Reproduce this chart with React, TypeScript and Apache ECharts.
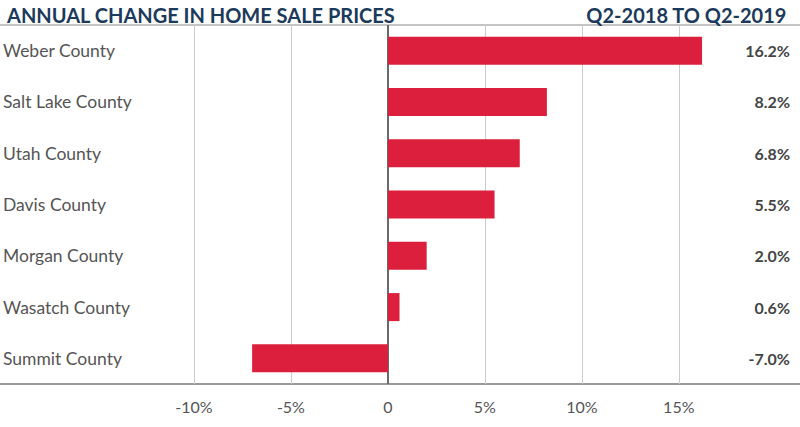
import React, { useEffect, useRef } from "react";
import * as echarts from "echarts";

const categories = [
  "Weber County",
  "Salt Lake County",
  "Utah County",
  "Davis County",
  "Morgan County",
  "Wasatch County",
  "Summit County",
];
const values = [16.2, 8.2, 6.8, 5.5, 2.0, 0.6, -7.0];
const tickValues = [-10, -5, 0, 5, 10, 15];
const gridValues = [-10, -5, 5, 10, 15];
const titleLeft = "ANNUAL CHANGE IN HOME SALE PRICES";
const titleRight = "Q2-2018 TO Q2-2019";

const FONT = "Lato";

export default function App() {
  const ref = useRef<HTMLDivElement>(null);
  useEffect(() => {
    if (!ref.current) return;
    const chart = echarts.init(ref.current, undefined, { renderer: "svg" });
    const cats = [...categories].reverse();
    const vals = [...values].reverse();
    const labels = vals.map((v) => v.toFixed(1) + "%");
    chart.setOption({
      animation: false,
      textStyle: { fontFamily: FONT },
      title: [
        {
          text: titleLeft,
          left: 2,
          top: 0,
          textStyle: { fontFamily: FONT, fontSize: 20, fontWeight: "bold", color: "#1B3A5C" },
        },
        {
          text: titleRight,
          right: 8,
          top: 0,
          textStyle: { fontFamily: FONT, fontSize: 20, fontWeight: "bold", color: "#1B3A5C" },
        },
      ],
      grid: { left: 0, right: 0, top: 25, bottom: 43, containLabel: false },
      xAxis: [
        {
          type: "value",
          min: -20,
          max: 21.25,
          position: "bottom",
          axisLine: { show: true, onZero: false, lineStyle: { color: "#9a9a9a", width: 2 } },
          axisTick: { show: false },
          splitLine: { show: false },
          axisLabel: {
            customValues: tickValues,
            margin: 14,
            fontSize: 16,
            color: "#555555",
            fontFamily: FONT,
            formatter: (v: number) => (v === 0 ? "0" : v + "%"),
          },
        },
        {
          type: "value",
          min: -20,
          max: 21.25,
          position: "top",
          axisLine: { show: true, onZero: false, lineStyle: { color: "#b0b0b0", width: 1.5 } },
          axisTick: { show: false },
          splitLine: { show: false },
          axisLabel: { show: false },
        },
      ],
      yAxis: [
        {
          type: "category",
          data: cats,
          position: "left",
          axisLine: { show: false, onZero: false },
          axisTick: { show: false },
          splitLine: { show: false },
          axisLabel: {
            inside: false,
            margin: -3,
            align: "left",
            fontSize: 17.5,
            color: "#555555",
            fontFamily: FONT,
          },
        },
        {
          type: "category",
          data: labels,
          position: "right",
          axisLine: { show: false, onZero: false },
          axisTick: { show: false },
          splitLine: { show: false },
          axisLabel: {
            inside: false,
            margin: -10,
            align: "right",
            fontSize: 16,
            fontWeight: "bold",
            color: "#444444",
            fontFamily: FONT,
          },
        },
      ],
      series: [
        {
          type: "bar",
          data: vals,
          xAxisIndex: 0,
          yAxisIndex: 0,
          barWidth: 28,
          itemStyle: { color: "#DC1F3D" },
          z: 3,
          markLine: {
            silent: true,
            symbol: ["none", "none"],
            label: { show: false },
            z: 1,
            data: [
              ...gridValues.map((g) => ({
                xAxis: g,
                lineStyle: { color: "#cccccc", width: 1, type: "solid" },
              })),
              { xAxis: 0, lineStyle: { color: "#6a6a6a", width: 2, type: "solid" } },
            ],
          },
        },
      ],
    });
    return () => chart.dispose();
  }, []);
  return (
    <div
      ref={ref}
      style={{ position: "absolute", left: 0, top: 0, width: 800, height: 427 }}
    />
  );
}
